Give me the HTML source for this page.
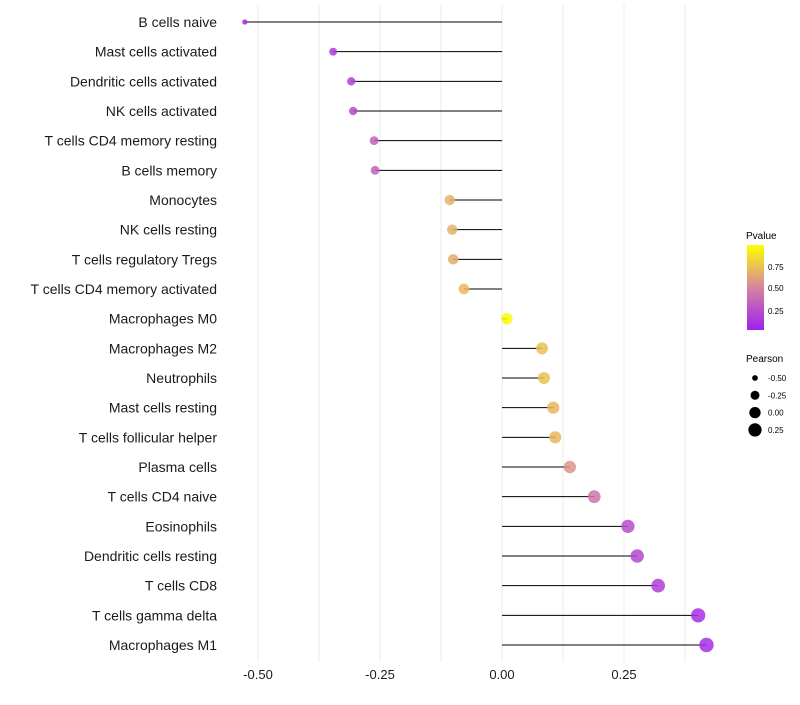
<!DOCTYPE html>
<html><head><meta charset="utf-8"><style>
body{margin:0;background:#fff;}
svg{font-family:"Liberation Sans",sans-serif;}
</style></head><body>
<svg id="chart" width="800" height="700" xmlns="http://www.w3.org/2000/svg">
<g id="grid"></g>
<g id="ylabels"></g>
<g id="marks"></g>
<g id="xlabels"></g>
<g id="legend">
  <defs><linearGradient id="pg" x1="0" y1="1" x2="0" y2="0">
    <stop offset="0" stop-color="#a020f0"/><stop offset="0.5" stop-color="#d5859f"/><stop offset="1" stop-color="#ffff00"/>
  </linearGradient></defs>
  <text x="746" y="239" font-size="10">Pvalue</text>
  <rect x="747" y="245" width="17" height="85" fill="url(#pg)"/>
  <text x="768" y="270" font-size="8">0.75</text>
  <text x="768" y="291" font-size="8">0.50</text>
  <text x="768" y="314" font-size="8">0.25</text>
  <text x="746" y="362" font-size="10">Pearson</text>
  <g id="sizelegend"></g>
</g>
</svg>
<script>
const categories=["B cells naive","Mast cells activated","Dendritic cells activated","NK cells activated","T cells CD4 memory resting","B cells memory","Monocytes","NK cells resting","T cells regulatory  Tregs ","T cells CD4 memory activated","Macrophages M0","Macrophages M2","Neutrophils","Mast cells resting","T cells follicular helper","Plasma cells","T cells CD4 naive","Eosinophils","Dendritic cells resting","T cells CD8","T cells gamma delta","Macrophages M1"];
const pearson=[-0.527,-0.346,-0.309,-0.305,-0.262,-0.26,-0.107,-0.102,-0.1,-0.078,0.01,0.082,0.086,0.105,0.109,0.139,0.189,0.258,0.277,0.32,0.402,0.419];
const pvalues=[0.03,0.12,0.16,0.2,0.32,0.32,0.68,0.68,0.66,0.72,0.98,0.74,0.74,0.7,0.7,0.56,0.42,0.22,0.2,0.15,0.07,0.07];
const xticks=[-0.5,-0.25,0,0.25];
const xtickLabels=["-0.50","-0.25","0.00","0.25"];
const sizeLegendValues=[-0.5,-0.25,0,0.25];
const sizeLegendLabels=["-0.50","-0.25","0.00","0.25"];

const NS="http://www.w3.org/2000/svg";
const x=v=>502+v*488;
const y=i=>22+i*29.667;
const r=v=>Math.sqrt(Math.max(1,32+47.4*v));
function hex(c){return [parseInt(c.slice(1,3),16),parseInt(c.slice(3,5),16),parseInt(c.slice(5,7),16)];}
const stops=[[0,hex("#a020f0")],[0.5,hex("#d5859f")],[1,hex("#ffff00")]];
function col(p){p=Math.max(0,Math.min(1,p));let a=stops[0],b=stops[1];if(p>0.5){a=stops[1];b=stops[2];}
 const t=(p-a[0])/(b[0]-a[0]);return "rgb("+a[1].map((c,k)=>Math.round(c+(b[1][k]-c)*t)).join(",")+")";}
function mk(tag,attrs,parent){const e=document.createElementNS(NS,tag);for(const k in attrs)e.setAttribute(k,attrs[k]);parent.appendChild(e);return e;}

const grid=document.getElementById('grid');
for(let v=-0.5;v<=0.376;v+=0.125){
 const g=mk('line',{x1:x(v),x2:x(v),y1:5,y2:662,stroke:'#ebebeb','stroke-width':1},grid);
 
 
}
const xl=document.getElementById('xlabels');
xticks.forEach((v,i)=>{
 const t=mk('text',{x:x(v),y:679,'font-size':13,'text-anchor':'middle',fill:'#1a1a1a'},xl);
 t.textContent=xtickLabels[i];
 
 
});
const yl=document.getElementById('ylabels'),mg=document.getElementById('marks');
categories.forEach((c,i)=>{
 const t=mk('text',{x:217,y:y(i)+5,'font-size':14,'text-anchor':'end',fill:'#1a1a1a'},yl);
 t.textContent=c;
 
 
 const l=mk('line',{x1:x(0),x2:x(pearson[i]),y1:y(i),y2:y(i),stroke:'#000','stroke-width':1},mg);
 
 
 const d=mk('circle',{cx:x(pearson[i]),cy:y(i),r:r(pearson[i]),fill:col(pvalues[i]),opacity:0.85},mg);
 
 
});
const sl=document.getElementById('sizelegend');
sizeLegendValues.forEach((v,i)=>{
 const cy=378+i*17.3;
 const d=mk('circle',{cx:755,cy:cy,r:r(v)},sl);
 
 
 const t=mk('text',{x:768,y:cy+3,'font-size':8},sl);
 t.textContent=sizeLegendLabels[i];
 
 
});
</script>
</body></html>
